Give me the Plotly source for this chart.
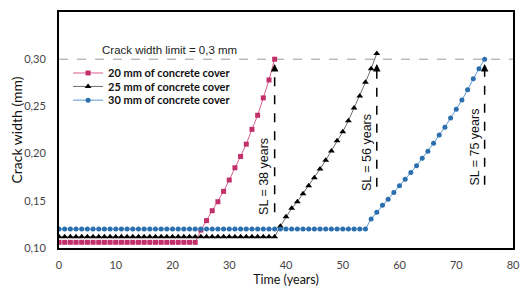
import plotly.graph_objects as go

# ---- data ----
years_20 = list(range(0, 39))
crack_20 = [0.106] * 25 + [0.119, 0.129, 0.1395, 0.149, 0.160, 0.172, 0.185, 0.197,
                           0.210, 0.2257, 0.2406, 0.259, 0.278, 0.300]

years_25 = list(range(0, 57))
crack_25 = [0.112] * 39 + [0.123, 0.133, 0.142, 0.149, 0.1575, 0.166, 0.1745, 0.1837,
                           0.193, 0.2028, 0.2137, 0.2232, 0.2349, 0.2483, 0.261, 0.2755,
                           0.290, 0.306]

years_30 = list(range(0, 76))
crack_30 = [0.120] * 55 + [0.1307, 0.138, 0.1452, 0.1516, 0.1588, 0.166, 0.1729, 0.1799,
                           0.187, 0.1952, 0.2026, 0.211, 0.2197, 0.228, 0.2377, 0.247,
                           0.2568, 0.2677, 0.2793, 0.290, 0.300]

series_names = ["20 mm of concrete cover", "25 mm of concrete cover", "30 mm of concrete cover"]
service_life = [38, 56, 75]
sl_labels = ["SL = 38 years", "SL = 56 years", "SL = 75 years"]
sl_arrow_bottom = [0.138, 0.165, 0.167]
sl_text_y = [0.176, 0.2015, 0.207]
limit_value = 0.30
limit_label = "Crack width limit = 0,3 mm"

x_ticks = list(range(0, 81, 10))
y_ticks = [0.10, 0.15, 0.20, 0.25, 0.30, 0.35]

# ---- figure ----
fig = go.Figure()

styles = [
    dict(line=dict(color="#D4608F", width=1), marker=dict(symbol="square", size=5, color="#C2306B")),
    dict(line=dict(color="#6E6E6E", width=1), marker=dict(symbol="triangle-up", size=6, color="#000000")),
    dict(line=dict(color="#5B9BD5", width=1), marker=dict(symbol="circle", size=5, color="#2C6FAE")),
]
legend_ids = ["legend", "legend2", "legend3"]
for xs, ys, name, st, lg in zip([years_20, years_25, years_30], [crack_20, crack_25, crack_30],
                                series_names, styles, legend_ids):
    fig.add_trace(go.Scatter(x=xs, y=ys, mode="lines+markers", name=name, legend=lg,
                             line=st["line"], marker=st["marker"]))

# limit line
fig.add_shape(type="line", xref="paper", x0=0, x1=1, yref="y", y0=limit_value, y1=limit_value,
              line=dict(color="#9A9A9A", width=1, dash="dash"), layer="below")
fig.add_annotation(x=19.4, y=limit_value, text=limit_label, showarrow=False,
                   yanchor="bottom", yshift=1,
                   font=dict(family="Liberation Sans, Arial", size=11.5, color="#222"))

# service-life arrows
for sl, lab, yb, yt in zip(service_life, sl_labels, sl_arrow_bottom, sl_text_y):
    fig.add_shape(type="line", x0=sl, x1=sl, y0=yb, y1=limit_value - 0.009,
                  line=dict(color="#000", width=1.5, dash="dash"))
    fig.add_annotation(x=sl, y=limit_value - 0.005, ax=sl, ay=limit_value - 0.014,
                       axref="x", ayref="y", xref="x", yref="y",
                       showarrow=True, arrowhead=2, arrowsize=1, arrowwidth=1.5,
                       arrowcolor="#000", text="")
    fig.add_annotation(x=sl, y=yt, text=lab, showarrow=False, textangle=-90,
                       xanchor="right", xshift=-1,
                       font=dict(family="Liberation Sans, Arial", size=12.5, color="#111"))

legend_common = dict(xanchor="left", yanchor="top", bgcolor="rgba(0,0,0,0)", itemwidth=30,
                     font=dict(family="Lato, Open Sans", size=11, color="#111", weight="bold"))

# page body has an 8px default margin: compensate so the plot lands where the reference has it
fig.update_layout(
    width=521, height=290,
    margin=dict(l=51, r=16, t=4, b=50),
    paper_bgcolor="white", plot_bgcolor="white",
    separators=",.",
    font=dict(family="Lato, Open Sans, sans-serif", size=11, color="#333"),
    showlegend=True,
    legend=dict(x=0.02, y=0.803, **legend_common),
    legend2=dict(x=0.02, y=0.746, **legend_common),
    legend3=dict(x=0.02, y=0.688, **legend_common),
    xaxis=dict(range=[0, 80], tickvals=x_ticks, showgrid=False, zeroline=False,
               showline=True, linecolor="#000", linewidth=2, mirror=True,
               ticks="", ticklabelstandoff=6, automargin=False,
               tickfont=dict(size=11, color="#444"),
               title=dict(text="Time (years)", font=dict(size=12.5, color="#111"), standoff=5)),
    yaxis=dict(range=[0.10, 0.35], tickvals=y_ticks, tickformat=".2f", showgrid=False,
               zeroline=False, showline=True, linecolor="#000", linewidth=2, mirror=True,
               ticks="", ticklabelstandoff=9, automargin=False,
               tickfont=dict(size=11, color="#444"),
               title=dict(text="Crack width (mm)", font=dict(size=14, color="#111"), standoff=2)),
)

fig.write_html("out.html")
